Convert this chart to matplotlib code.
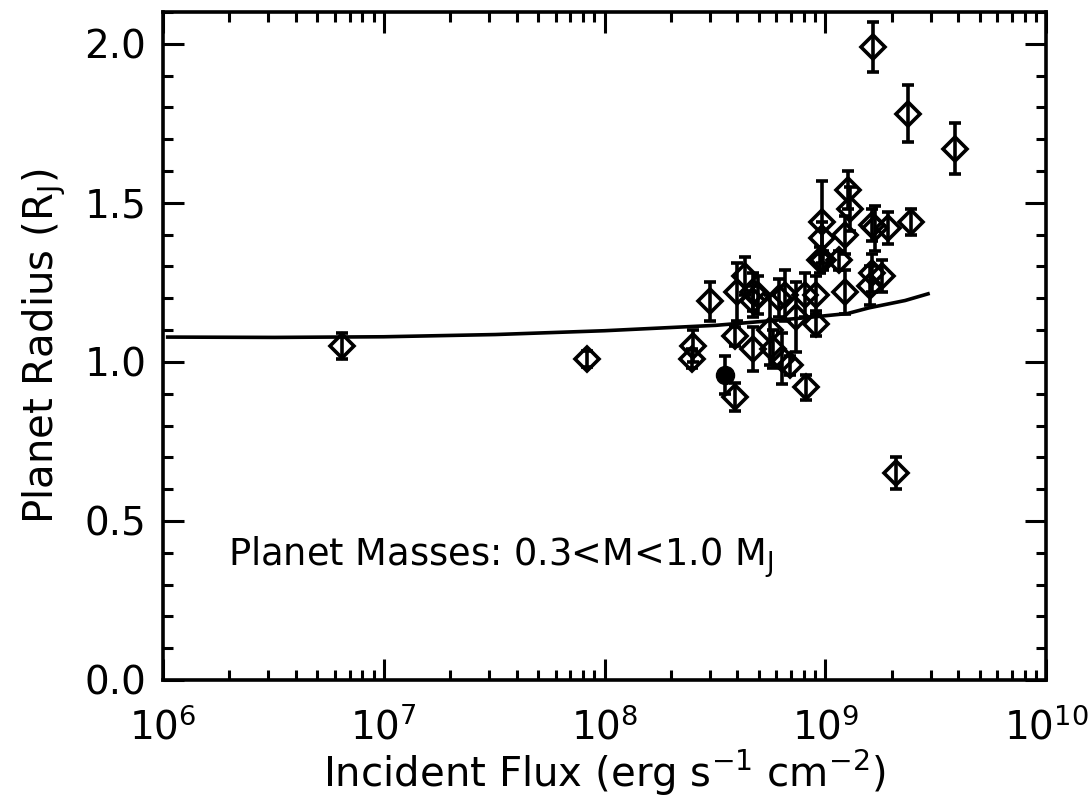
import matplotlib
matplotlib.use("Agg")
import matplotlib.pyplot as plt
import numpy as np
from matplotlib.ticker import LogLocator, MultipleLocator, FixedLocator

# incident flux (erg s^-1 cm^-2), radius (R_J), radius error
flux = [6.5e6, 8.3e7, 2.48e8, 2.52e8, 3.0e8, 3.9e8, 3.9e8, 3.97e8, 4.33e8,
        4.72e8, 4.72e8, 4.95e8, 4.72e8, 5.6e8, 5.8e8, 6.35e8, 6.9e8, 6.2e8,
        6.6e8, 7.4e8, 8.1e8, 8.2e8, 9.1e8, 9.1e8, 9.5e8, 9.7e8, 9.7e8, 9.8e8,
        1.15e9, 1.23e9, 1.23e9, 1.27e9, 1.30e9, 1.62e9, 1.60e9, 1.81e9,
        1.68e9, 1.62e9, 1.93e9, 2.44e9, 2.08e9, 1.64e9, 2.36e9, 3.85e9]
radius = [1.05, 1.01, 1.01, 1.05, 1.19, 0.89, 1.08, 1.22, 1.27,
          1.22, 1.19, 1.21, 1.04, 1.10, 1.04, 1.01, 0.99, 1.20,
          1.21, 1.14, 1.21, 0.92, 1.21, 1.12, 1.32, 1.44, 1.39, 1.32,
          1.32, 1.40, 1.22, 1.54, 1.48, 1.28, 1.24, 1.27,
          1.42, 1.43, 1.42, 1.44, 0.65, 1.99, 1.78, 1.67]
rerr = [0.04, 0.025, 0.03, 0.05, 0.06, 0.045, 0.03, 0.09, 0.06,
        0.06, 0.05, 0.06, 0.07, 0.11, 0.06, 0.08, 0.03, 0.06,
        0.08, 0.11, 0.07, 0.04, 0.06, 0.04, 0.04, 0.13, 0.05, 0.03,
        0.03, 0.06, 0.07, 0.06, 0.07, 0.06, 0.06, 0.05,
        0.07, 0.05, 0.05, 0.04, 0.05, 0.08, 0.09, 0.08]

# highlighted planet
hl_flux = [3.5e8]
hl_radius = [0.96]
hl_err = [0.06]

# model curve
model_flux = [1.05e6, 3.2e6, 1e7, 3.2e7, 1e8, 3.2e8, 7.9e8, 1.26e9, 1.58e9,
              2.3e9, 2.92e9]
model_radius = [1.078, 1.077, 1.079, 1.086, 1.098, 1.115, 1.138, 1.152,
                1.17, 1.193, 1.214]

plt.rcParams['font.family'] = 'DejaVu Sans'
plt.rcParams['mathtext.default'] = 'regular'

fig = plt.figure(figsize=(10.91, 8.01), dpi=100)
ax = fig.add_axes([0.1494, 0.1511, 0.8094, 0.8339])

ax.plot(model_flux, model_radius, color='black', lw=2.6)
ax.errorbar(flux, radius, yerr=rerr, fmt='D', ms=12, mfc='none', mec='black',
            mew=2.6, ecolor='black', elinewidth=2.6, capsize=4.5, capthick=2.6)
ax.errorbar(hl_flux, hl_radius, yerr=hl_err, fmt='o', ms=13, color='black',
            elinewidth=2.6, capsize=4.5, capthick=2.6)

ax.set_xscale('log')
ax.set_xlim(1e6, 1e10)
ax.set_ylim(0, 2.1)
ax.yaxis.set_major_locator(FixedLocator([0.0, 0.5, 1.0, 1.5, 2.0]))
ax.yaxis.set_minor_locator(MultipleLocator(0.1))
ax.set_yticklabels(['0.0', '0.5', '1.0', '1.5', '2.0'])
ax.xaxis.set_major_locator(LogLocator(base=10, numticks=10))
ax.xaxis.set_minor_locator(LogLocator(base=10, subs=np.arange(2, 10), numticks=20))

ax.tick_params(which='both', direction='in', top=True, right=True,
               width=2.2, labelsize=28)
ax.tick_params(which='major', length=15, pad=12)
ax.tick_params(which='minor', length=7)
ax.tick_params(axis='x', which='major', pad=20)
for s in ax.spines.values():
    s.set_linewidth(2.6)

ax.set_xlabel('Incident Flux (erg s$^{-1}$ cm$^{-2}$)', fontsize=29, labelpad=0)
ax.set_ylabel('Planet Radius (R$_J$)', fontsize=29, labelpad=12)
ax.text(0.074, 0.184, 'Planet Masses: 0.3<M<1.0 M$_J$', transform=ax.transAxes,
        fontsize=26.5, va='center', ha='left')

fig.savefig('out.png', dpi=100)
